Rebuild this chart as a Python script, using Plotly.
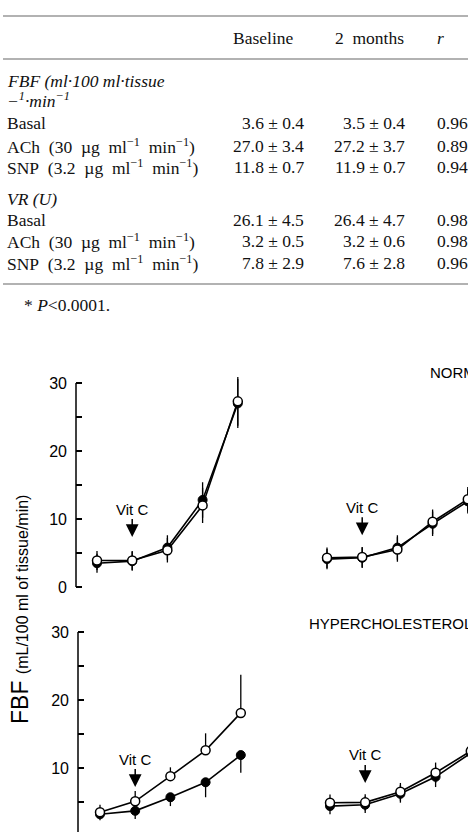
import plotly.graph_objects as go

W, H = 468, 832

# ---------------- table data ----------------
col_headers = ["Baseline", "2&nbsp; months", "r"]
row_labels = ["Basal",
              "ACh&nbsp; (30&nbsp; µg&nbsp; ml<sup>−1</sup>&nbsp; min<sup>−1</sup>)",
              "SNP&nbsp; (3.2&nbsp; µg&nbsp; ml<sup>−1</sup>&nbsp; min<sup>−1</sup>)"]
fbf_base_mean = [3.6, 27.0, 11.8]
fbf_base_sd = [0.4, 3.4, 0.7]
fbf_2m_mean = [3.5, 27.2, 11.9]
fbf_2m_sd = [0.4, 3.7, 0.7]
fbf_r = ["0.96*", "0.892*", "0.942*"]
vr_base_mean = [26.1, 3.2, 7.8]
vr_base_sd = [4.5, 0.5, 2.9]
vr_2m_mean = [26.4, 3.2, 7.6]
vr_2m_sd = [4.7, 0.6, 2.8]
vr_r = ["0.982*", "0.987*", "0.96*"]
footnote = "* <i>P</i>&lt;0.0001."

# ---------------- figure data ----------------
steps = [0, 1, 2, 3, 4]
normo_a_open = [3.9, 3.9, 5.4, 12.0, 27.3]
normo_a_filled = [3.5, 3.8, 5.8, 12.8, 27.0]
normo_a_err = [1.4, 1.4, 1.8, 2.6, 3.6]
normo_b_open = [4.3, 4.4, 5.5, 9.6, 12.9]
normo_b_filled = [4.1, 4.3, 5.8, 9.3, 12.6]
normo_b_err = [1.5, 1.5, 1.8, 1.8, 1.8]
hyper_a_open = [3.5, 5.1, 8.8, 12.6, 18.1]
hyper_a_open_err = [1.1, 1.5, 1.3, 2.5, 5.6]
hyper_a_filled = [3.2, 3.7, 5.7, 7.9, 11.9]
hyper_a_filled_err = [0.9, 1.2, 1.3, 2.2, 2.6]
hyper_b_open = [4.9, 4.95, 6.5, 9.3, 12.5]
hyper_b_filled = [4.4, 4.6, 6.2, 8.7, 12.2]
hyper_b_err = [1.2, 1.2, 1.3, 1.5, 2.0]
vitc_step = 1
y_ticks = [0, 5, 10, 15, 20, 25, 30]
y_ticktext = ["0", " ", "10", " ", "20", " ", "30"]

SERIF = "Liberation Serif, Times New Roman, serif"
SANS = "Liberation Sans, Arial, sans-serif"


def px(x):
    return x / W


def py(y):
    return 1 - y / H


fig = go.Figure()

U = 6.8  # px per y unit
SP = 35.2  # px per step
panels = {
    "1": dict(xd=(76, 300), x0px=97, zero=587),
    "2": dict(xd=(300, 468), x0px=327, zero=587),
    "3": dict(xd=(78, 300), x0px=100, zero=836),
    "4": dict(xd=(300, 468), x0px=330, zero=836),
}
for k, p in panels.items():
    xa = "xaxis" if k == "1" else "xaxis" + k
    ya = "yaxis" if k == "1" else "yaxis" + k
    xl, xr = p["xd"]
    xrange = [-(p["x0px"] - xl) / SP, (xr - p["x0px"]) / SP]
    ytop_val = 31.6
    top_px = p["zero"] - ytop_val * U
    bot_px = min(p["zero"] + 1.5 * U, H)
    yrange = [(p["zero"] - bot_px) / U, ytop_val]
    left = k in ("1", "3")
    fig.layout[xa] = dict(domain=[px(xl), px(xr)], range=xrange, visible=False,
                          anchor="y" if k == "1" else "y" + k)
    fig.layout[ya] = dict(domain=[py(bot_px), py(top_px)], range=yrange,
                          anchor="x" if k == "1" else "x" + k,
                          showgrid=False, zeroline=False, showline=False,
                          tickvals=y_ticks if left else [],
                          ticktext=y_ticktext if left else [],
                          ticks="inside" if left else "", ticklen=6, tickwidth=1.5,
                          tickcolor="black", showticklabels=left,
                          ticklabelstandoff=8,
                          tickfont=dict(family=SANS, size=16, color="black"))
    if left:
        fig.add_shape(type="line", xref=("x" if k == "1" else "x" + k) + " domain",
                      yref="y" if k == "1" else "y" + k,
                      x0=0, x1=0, y0=0, y1=30, line=dict(color="black", width=1.5))


def add_pair(k, filled, open_, err_f, err_o, sym=True):
    xr = "x" if k == "1" else "x" + k
    yr = "y" if k == "1" else "y" + k
    if sym:
        ef = dict(type="data", array=err_f, width=0, thickness=1.3, color="black")
        eo = dict(type="data", array=err_o, width=0, thickness=1.3, color="black")
    else:
        ef = dict(type="data", symmetric=False, array=[0] * len(err_f), arrayminus=err_f,
                  width=0, thickness=1.3, color="black")
        eo = dict(type="data", symmetric=False, array=err_o, arrayminus=[0] * len(err_o),
                  width=0, thickness=1.3, color="black")
    fig.add_trace(go.Scatter(x=steps, y=filled, xaxis=xr, yaxis=yr, mode="lines+markers",
                             line=dict(color="black", width=1.6),
                             marker=dict(symbol="circle", size=9, color="black",
                                         line=dict(color="black", width=1)),
                             error_y=ef, showlegend=False))
    fig.add_trace(go.Scatter(x=steps, y=open_, xaxis=xr, yaxis=yr, mode="lines+markers",
                             line=dict(color="black", width=1.6),
                             marker=dict(symbol="circle", size=9, color="white",
                                         line=dict(color="black", width=1.5)),
                             error_y=eo, showlegend=False))


add_pair("1", normo_a_filled, normo_a_open, normo_a_err, normo_a_err)
add_pair("2", normo_b_filled, normo_b_open, normo_b_err, normo_b_err)
add_pair("3", hyper_a_filled, hyper_a_open, hyper_a_filled_err, hyper_a_open_err, sym=False)
add_pair("4", hyper_b_filled, hyper_b_open, hyper_b_err, hyper_b_err)

ann = []
# Vit C arrows
for k, tip in (("1", 7.35), ("2", 7.6), ("3", 7.2), ("4", 7.8)):
    ann.append(dict(xref="x" if k == "1" else "x" + k, yref="y" if k == "1" else "y" + k,
                    x=vitc_step, y=tip, ax=0, ay=-28, text="Vit C", showarrow=True,
                    arrowhead=2, arrowsize=1.7, arrowwidth=1.5, arrowcolor="black",
                    font=dict(family=SANS, size=15, color="black")))

ann.append(dict(xref="paper", yref="paper", x=px(428), y=py(372), xanchor="left", yanchor="middle",
                text="NORMOCHOLESTEROLEMIC", showarrow=False,
                font=dict(family=SANS, size=15, color="black")))
ann.append(dict(xref="paper", yref="paper", x=px(307), y=py(623), xanchor="left", yanchor="middle",
                text="HYPERCHOLESTEROLEMIC", showarrow=False,
                font=dict(family=SANS, size=15, color="black")))
ann.append(dict(xref="paper", yref="paper", x=px(20), y=py(610), xanchor="center", yanchor="middle",
                textangle=-90, showarrow=False,
                text="FBF <span style='font-size:16px'>(mL/100 ml of tissue/min)</span>",
                font=dict(family=SANS, size=23, color="black")))

# ---------------- table ----------------
TF = dict(family=SERIF, size=17.5, color="#111")


def txt(x, y, s, anchor="left"):
    ann.append(dict(xref="paper", yref="paper", x=px(x), y=py(y), xanchor=anchor, yanchor="middle",
                    text=s, showarrow=False, font=TF))


for yline in (16, 59, 284):
    fig.add_shape(type="line", xref="paper", yref="paper", x0=px(3), x1=1, y0=py(yline), y1=py(yline),
                  line=dict(color="#666", width=1.2))

txt(263, 38, col_headers[0], "center")
txt(369, 38, col_headers[1], "center")
txt(435, 38, "<i>" + col_headers[2] + "</i>", "left")
txt(5, 81, "<i>FBF (ml·100 ml·tissue</i>")
txt(5, 100, "<i>−<sup>1</sup>·min<sup>−1</sup></i>")
for i, y in enumerate((123, 146, 167)):
    txt(5, y, row_labels[i])
    txt(306, y, f"{fbf_base_mean[i]:.1f} ± {fbf_base_sd[i]:.1f}", "right")
    txt(407, y, f"{fbf_2m_mean[i]:.1f} ± {fbf_2m_sd[i]:.1f}", "right")
    txt(435, y, fbf_r[i])
txt(5, 199, "<i>VR (U)</i>")
for i, y in enumerate((220, 241, 263)):
    txt(5, y, row_labels[i])
    txt(306, y, f"{vr_base_mean[i]:.1f} ± {vr_base_sd[i]:.1f}", "right")
    txt(407, y, f"{vr_2m_mean[i]:.1f} ± {vr_2m_sd[i]:.1f}", "right")
    txt(435, y, vr_r[i])
txt(22, 305, footnote)

fig.update_layout(width=W, height=H, autosize=False, margin=dict(l=0, r=0, t=0, b=0),
                  paper_bgcolor="white", plot_bgcolor="white", annotations=ann,
                  showlegend=False)

fig.write_html("out.html", config={"displayModeBar": False},
               post_script="document.body.style.margin='0';")
